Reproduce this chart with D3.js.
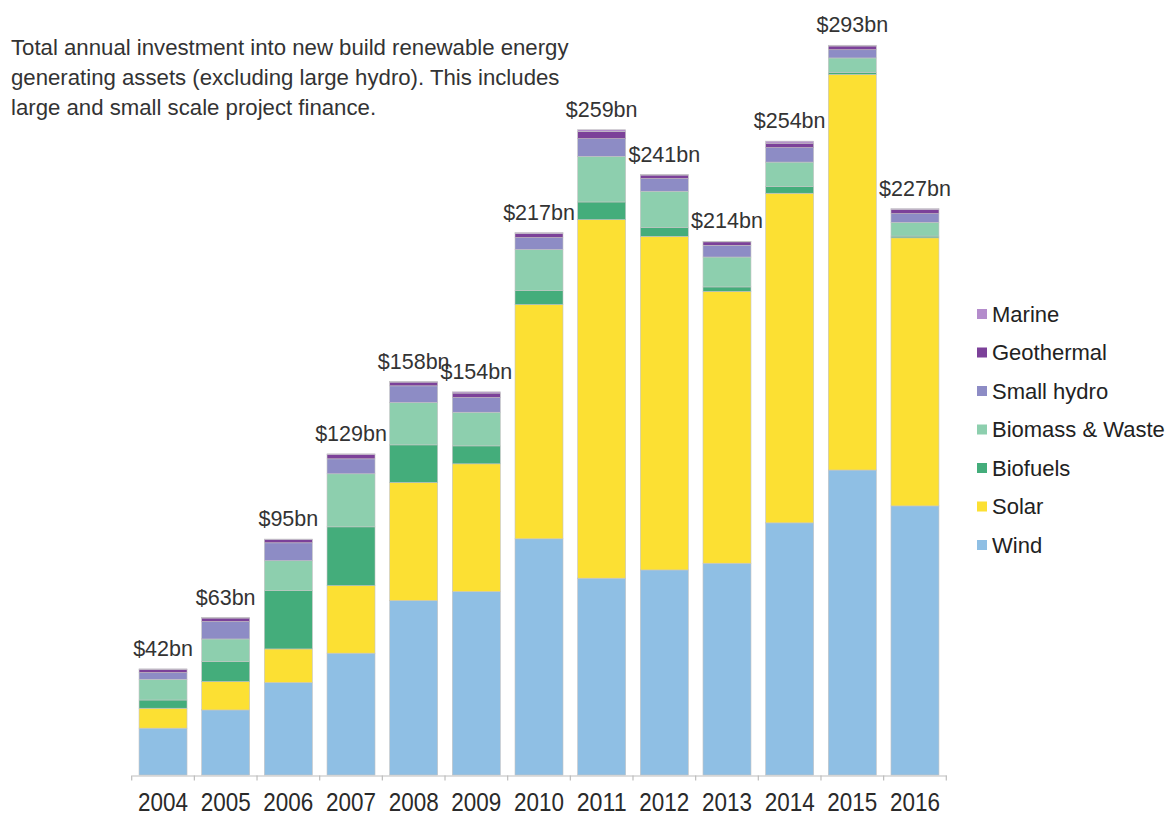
<!DOCTYPE html>
<html>
<head>
<meta charset="utf-8">
<script src="https://cdn.jsdelivr.net/npm/d3@7"></script>
<style>
  body { margin: 0; background: #fff; }
  text { font-family: "Liberation Sans", Arial, sans-serif; }
</style>
</head>
<body>
<div class="chart"></div>
<script>
// values in $bn
const years = ['2004', '2005', '2006', '2007', '2008', '2009', '2010', '2011', '2012', '2013', '2014', '2015', '2016']
const totals = [42, 63, 95, 129, 158, 154, 217, 259, 241, 214, 254, 293, 227]

const wind       = [18.8, 26.1, 37.1, 48.9, 70.0, 73.6, 94.8, 79.0, 82.3, 85.0, 101.2, 122.4, 108.0]
const solar      = [8.0, 11.4, 13.5, 27.1, 47.4, 51.3, 94.0, 143.9, 133.9, 109.1, 132.3, 158.8, 107.6]
const biofuels   = [3.3, 8.0, 23.4, 23.6, 15.1, 7.2, 5.6, 7.1, 3.6, 1.8, 2.7, 0.8, 0.7]
const biomass    = [8.3, 9.1, 12.0, 21.3, 17.0, 13.5, 16.5, 18.3, 14.5, 12.0, 9.8, 5.8, 5.5]
const smallHydro = [2.7, 7.0, 7.2, 6.0, 6.7, 5.9, 4.8, 7.1, 5.1, 4.7, 5.8, 3.3, 3.5]
const geothermal = [1.3, 1.4, 1.3, 1.7, 1.5, 1.8, 1.6, 2.9, 1.4, 1.4, 1.8, 1.5, 1.6]
const marine     = [0.2, 0.2, 0.2, 0.3, 0.2, 0.5, 0.4, 0.7, 0.2, 0.2, 0.8, 0.3, 0.4]

const seriesNames = ['Wind', 'Solar', 'Biofuels', 'Biomass & Waste', 'Small hydro', 'Geothermal', 'Marine']
const seriesValues = [wind, solar, biofuels, biomass, smallHydro, geothermal, marine]
const colors = ['#8fbfe4', '#fce033', '#44ad7b', '#8dcfae', '#8d8cc5', '#7c4199', '#b48ccc']

const titleLines = [
  'Total annual investment into new build renewable energy',
  'generating assets (excluding large hydro). This includes',
  'large and small scale project finance.'
]

const width = 1175
const height = 817

// rows for d3.stack
const table = years.map((yr, i) => {
  const row = { year: yr }
  seriesNames.forEach((s, j) => { row[s] = seriesValues[j][i] })
  return row
})

const stacked = d3.stack().keys(seriesNames)(table)

const x = d3.scaleBand()
  .domain(years)
  .range([131.7, 946.3])
  .paddingInner(0.234)
  .paddingOuter(0.117)

const y = d3.scaleLinear()
  .domain([0, 293])
  .range([775, 45])

const color = d3.scaleOrdinal().domain(seriesNames).range(colors)

const svg = d3.select('.chart').append('svg')
  .attr('width', width)
  .attr('height', height)

// title
svg.append('g')
  .selectAll('text')
  .data(titleLines)
  .join('text')
    .attr('x', 11)
    .attr('y', (d, i) => 47 + i * 30)
    .attr('dominant-baseline', 'central')
    .attr('font-size', 22.2)
    .attr('fill', '#333')
    .text(d => d)

// bars
svg.append('g')
  .selectAll('g')
  .data(stacked)
  .join('g')
    .attr('fill', d => color(d.key))
  .selectAll('rect')
  .data(d => d)
  .join('rect')
    .attr('x', d => x(d.data.year))
    .attr('width', x.bandwidth())
    .attr('y', d => y(d[1]))
    .attr('height', d => y(d[0]) - y(d[1]))
    .attr('stroke', '#c4c4c4')
    .attr('stroke-width', 0.6)

// axis line and tick marks between categories
const axis = d3.axisBottom(x).tickSize(0).tickPadding(0)
const gx = svg.append('g')
  .attr('transform', 'translate(0,775.5)')
  .call(axis)
gx.select('.domain').attr('stroke', '#bdbdbd').attr('stroke-width', 1.2)
gx.selectAll('.tick text')
  .attr('font-size', 25)
  .attr('fill', '#2a2a2a')
  .attr('font-family', '"Liberation Sans", Arial, sans-serif')
  .attr('y', 35.5)
  .attr('dy', null)
  .attr('textLength', 50)
  .attr('lengthAdjust', 'spacingAndGlyphs')

const boundaries = d3.range(years.length + 1).map(i => x.range()[0] + i * x.step())
gx.selectAll('.sep')
  .data(boundaries)
  .join('line')
    .attr('class', 'sep')
    .attr('x1', d => d)
    .attr('x2', d => d)
    .attr('y1', 0)
    .attr('y2', 5)
    .attr('stroke', '#bdbdbd')
    .attr('stroke-width', 1.2)

// total labels
svg.append('g')
  .selectAll('text')
  .data(totals)
  .join('text')
    .attr('x', (d, i) => x(years[i]) + x.bandwidth() / 2)
    .attr('y', (d, i) => y(d3.sum(seriesValues, s => s[i])) - 13)
    .attr('text-anchor', 'middle')
    .attr('font-size', 21.5)
    .attr('fill', '#333')
    .text(d => '$' + d + 'bn')

// legend, top entry is the last series
const legendItems = seriesNames.slice().reverse()
const legend = svg.append('g')
  .selectAll('g')
  .data(legendItems)
  .join('g')
    .attr('transform', (d, i) => `translate(977,${314 + i * 38.5})`)

legend.append('rect')
  .attr('x', 0)
  .attr('y', -5)
  .attr('width', 10)
  .attr('height', 10)
  .attr('fill', d => color(d))

legend.append('text')
  .attr('x', 15)
  .attr('y', 0)
  .attr('dominant-baseline', 'central')
  .attr('font-size', 22)
  .attr('fill', '#222')
  .text(d => d)
</script>
</body>
</html>
